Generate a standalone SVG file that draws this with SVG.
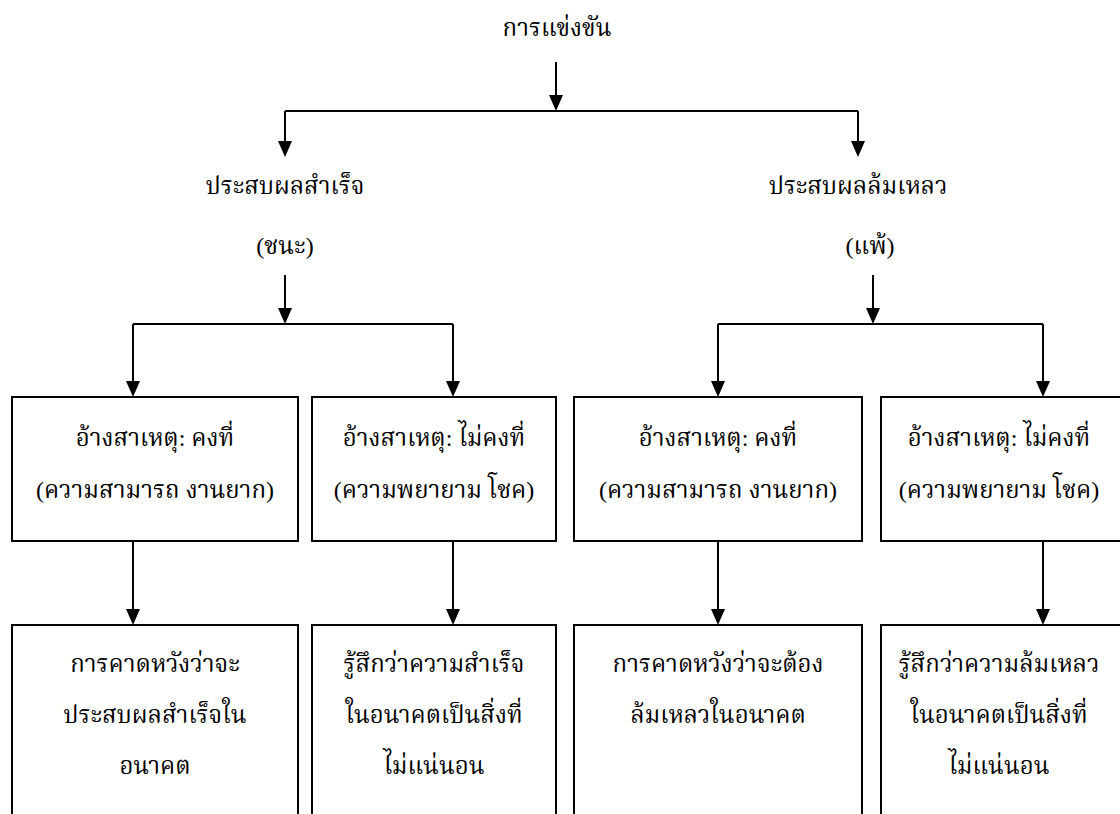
<svg xmlns="http://www.w3.org/2000/svg" width="1120" height="814" viewBox="0 0 1120 814">
  <style>
    .t { font-family: "Liberation Serif", "Noto Serif Thai", "Noto Sans Thai", "DejaVu Serif", serif; font-size: 24px; fill: #000; text-anchor: middle; }
    .box { fill: #fff; stroke: #000; stroke-width: 2; }
    .wire { fill: none; stroke: #000; stroke-width: 2; }
  </style>
  <defs>
    <marker id="head" viewBox="0 0 16 14" refX="13" refY="7" markerWidth="16" markerHeight="14" markerUnits="userSpaceOnUse" orient="auto">
      <path d="M0,0 L16,7 L0,14 z" fill="#000"/>
    </marker>
  </defs>
  <rect width="1120" height="814" fill="#fff"/>

  <!-- connectors -->
  <g id="connectors" class="wire">
    <path d="M556,62 V108" marker-end="url(#head)"/>
    <path d="M285,111 H858"/>
    <path d="M285,111 V154" marker-end="url(#head)"/>
    <path d="M858,111 V154" marker-end="url(#head)"/>

    <path d="M285,275 V321" marker-end="url(#head)"/>
    <path d="M133,324 H453"/>
    <path d="M133,324 V394" marker-end="url(#head)"/>
    <path d="M453,324 V394" marker-end="url(#head)"/>

    <path d="M873,275 V321" marker-end="url(#head)"/>
    <path d="M718,324 H1043"/>
    <path d="M718,324 V394" marker-end="url(#head)"/>
    <path d="M1043,324 V394" marker-end="url(#head)"/>

    <path d="M133,541 V622" marker-end="url(#head)"/>
    <path d="M453,541 V622" marker-end="url(#head)"/>
    <path d="M718,541 V622" marker-end="url(#head)"/>
    <path d="M1043,541 V622" marker-end="url(#head)"/>
  </g>

  <!-- level 0 -->
  <g id="n-compete">
    <text class="t" x="557" y="36">การแข่งขัน</text>
  </g>

  <!-- level 1 -->
  <g id="n-success">
    <text class="t" x="285" y="194">ประสบผลสำเร็จ</text>
    <text class="t" x="285" y="254">(ชนะ)</text>
  </g>
  <g id="n-failure">
    <text class="t" x="858" y="194">ประสบผลล้มเหลว</text>
    <text class="t" x="870" y="254">(แพ้)</text>
  </g>

  <!-- level 2: attributions -->
  <g id="n-s-stable">
    <rect class="box" x="12" y="397" width="286" height="144"/>
    <text class="t" x="155" y="446">อ้างสาเหตุ: คงที่</text>
    <text class="t" x="155" y="498">(ความสามารถ งานยาก)</text>
  </g>
  <g id="n-s-unstable">
    <rect class="box" x="312" y="397" width="244" height="144"/>
    <text class="t" x="434" y="446">อ้างสาเหตุ: ไม่คงที่</text>
    <text class="t" x="434" y="498">(ความพยายาม โชค)</text>
  </g>
  <g id="n-f-stable">
    <rect class="box" x="574" y="397" width="288" height="144"/>
    <text class="t" x="718" y="446">อ้างสาเหตุ: คงที่</text>
    <text class="t" x="718" y="498">(ความสามารถ งานยาก)</text>
  </g>
  <g id="n-f-unstable">
    <rect class="box" x="881" y="397" width="250" height="144"/>
    <text class="t" x="999" y="446">อ้างสาเหตุ: ไม่คงที่</text>
    <text class="t" x="999" y="498">(ความพยายาม โชค)</text>
  </g>

  <!-- level 3: expectations -->
  <g id="n-s-expect">
    <rect class="box" x="12" y="625" width="286" height="200"/>
    <text class="t" x="155" y="672">การคาดหวังว่าจะ</text>
    <text class="t" x="155" y="723">ประสบผลสำเร็จใน</text>
    <text class="t" x="155" y="774">อนาคต</text>
  </g>
  <g id="n-s-uncertain">
    <rect class="box" x="312" y="625" width="244" height="200"/>
    <text class="t" x="434" y="672">รู้สึกว่าความสำเร็จ</text>
    <text class="t" x="434" y="723">ในอนาคตเป็นสิ่งที่</text>
    <text class="t" x="434" y="774">ไม่แน่นอน</text>
  </g>
  <g id="n-f-expect">
    <rect class="box" x="574" y="625" width="288" height="200"/>
    <text class="t" x="718" y="672">การคาดหวังว่าจะต้อง</text>
    <text class="t" x="718" y="723">ล้มเหลวในอนาคต</text>
  </g>
  <g id="n-f-uncertain">
    <rect class="box" x="881" y="625" width="250" height="200"/>
    <text class="t" x="999" y="672">รู้สึกว่าความล้มเหลว</text>
    <text class="t" x="999" y="723">ในอนาคตเป็นสิ่งที่</text>
    <text class="t" x="999" y="774">ไม่แน่นอน</text>
  </g>
</svg>
